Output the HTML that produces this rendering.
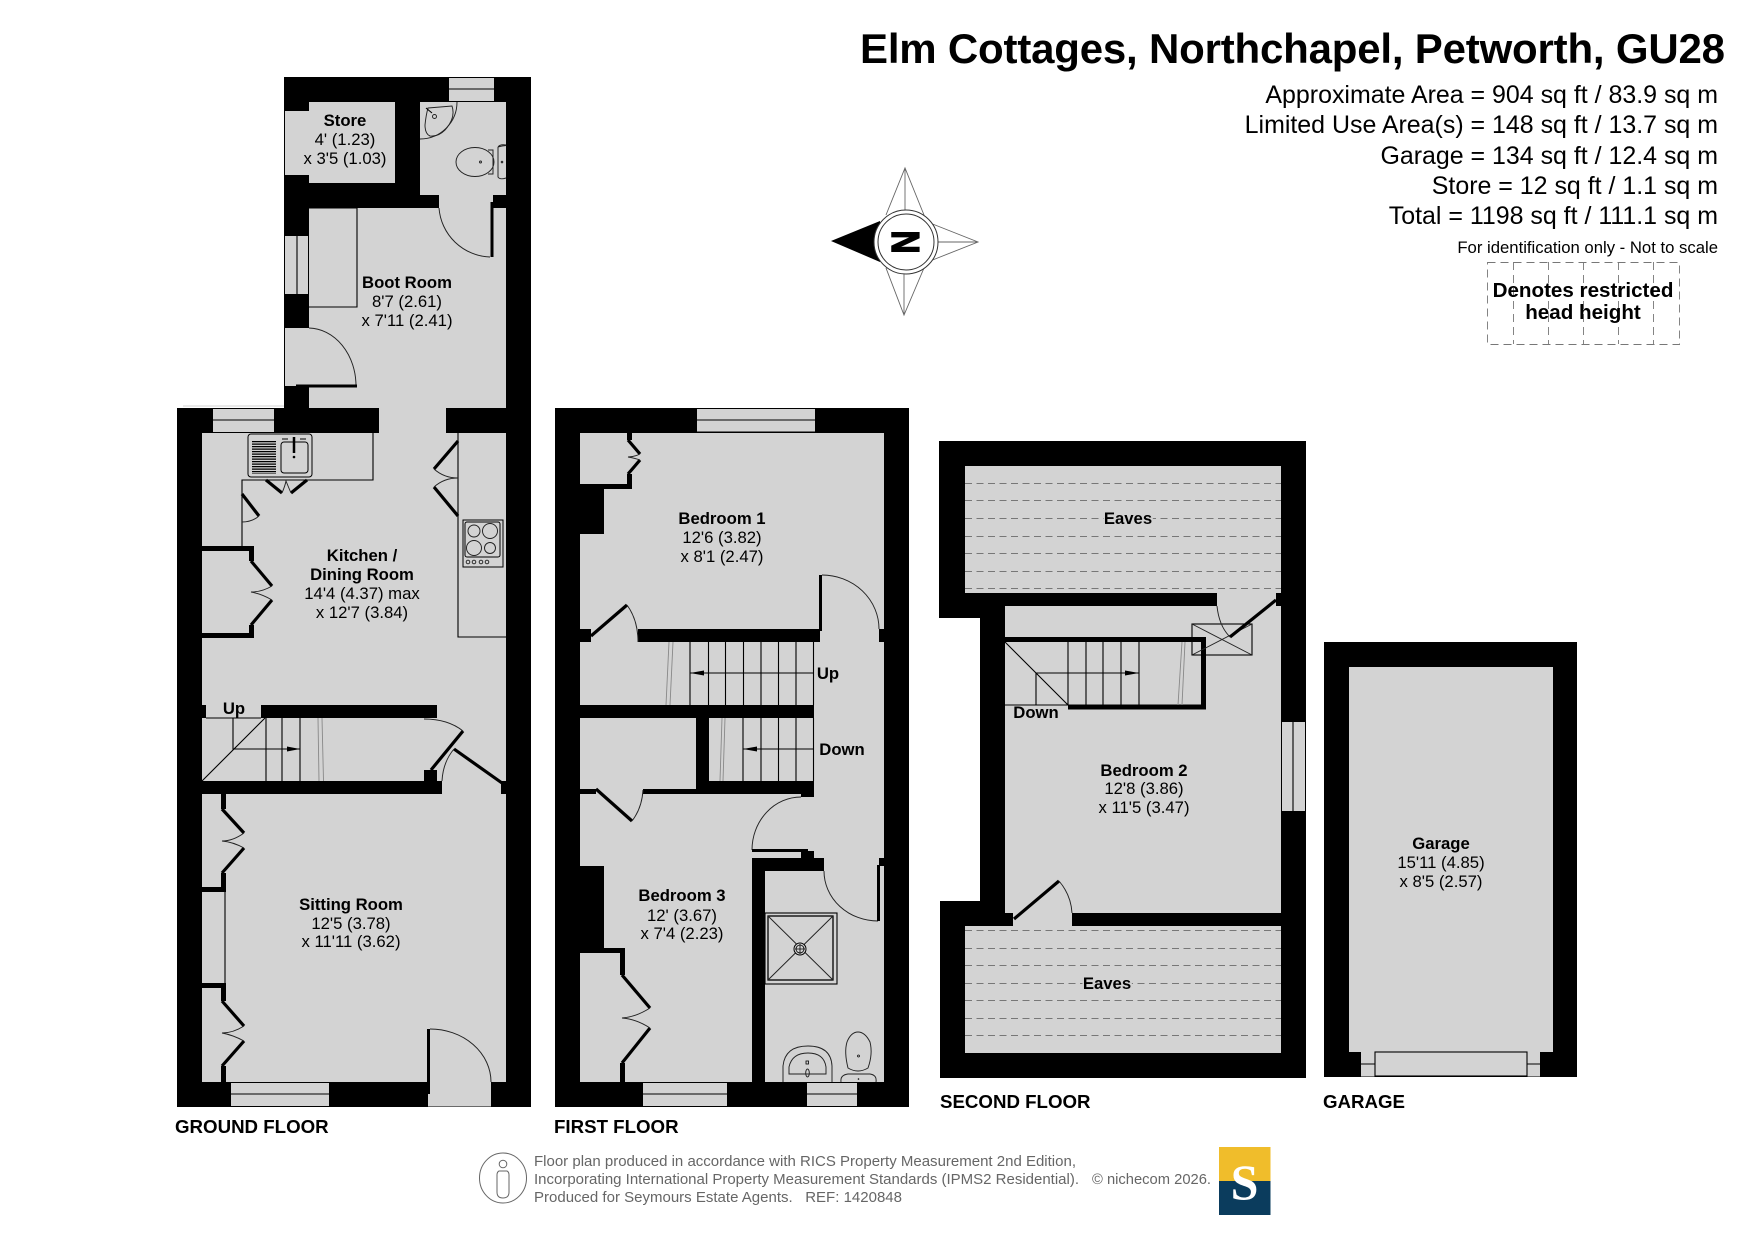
<!DOCTYPE html>
<html><head><meta charset="utf-8"><style>
html,body{margin:0;padding:0;background:#fff;width:1755px;height:1241px;overflow:hidden}
svg{display:block}
text{font-family:"Liberation Sans",sans-serif;fill:#000}
.r{font-size:16.7px;text-anchor:middle}
.b{font-size:16.7px;font-weight:bold;text-anchor:middle}
.f{font-size:18.7px;font-weight:bold}
.i{font-size:24.95px;text-anchor:end}
.foot{font-size:15px;fill:#666}
.t{fill:none;stroke:#000;stroke-width:1.1}
.a{fill:none;stroke:#222;stroke-width:.95}
.l{fill:none;stroke:#000;stroke-width:3.2}
.g{fill:none;stroke:#888;stroke-width:.9}
.d{fill:none;stroke:#777;stroke-width:1;stroke-dasharray:7 4.5}
</style></head><body>
<svg width="1755" height="1241" viewBox="0 0 1755 1241" xmlns="http://www.w3.org/2000/svg">
<rect width="1755" height="1241" fill="#fff"/>

<!-- HEADER -->
<text x="860" y="63" font-size="42" font-weight="bold" textLength="865" lengthAdjust="spacing">Elm Cottages, Northchapel, Petworth, GU28</text>
<text class="i" x="1718" y="103">Approximate Area = 904 sq ft / 83.9 sq m</text>
<text class="i" x="1718" y="133">Limited Use Area(s) = 148 sq ft / 13.7 sq m</text>
<text class="i" x="1718" y="164">Garage = 134 sq ft / 12.4 sq m</text>
<text class="i" x="1718" y="194">Store = 12 sq ft / 1.1 sq m</text>
<text class="i" x="1718" y="224">Total = 1198 sq ft / 111.1 sq m</text>
<text x="1718" y="253" font-size="16.7" text-anchor="end">For identification only - Not to scale</text>
<rect x="1487.500" y="262.500" width="192" height="82" fill="none" stroke="#777" stroke-width=".9" stroke-dasharray="8 5"/>
<path d="M1513.500 262V344M1548.500 262V344M1583.500 262V344M1618.500 262V344M1653.500 262V344" fill="none" stroke="#777" stroke-width=".9" stroke-dasharray="8 5"/>
<text x="1583" y="297" font-size="20.6" font-weight="bold" text-anchor="middle">Denotes restricted</text>
<text x="1583" y="319" font-size="20.6" font-weight="bold" text-anchor="middle">head height</text>

<!-- COMPASS -->
<g fill="none" stroke="#666" stroke-width=".9">
<path d="M886 215L905 168L924 215M905 168V210"/>
<path d="M930 223L978 242L930 261M978 242H937"/>
<path d="M886 268L904 315L924 268M904 315V274"/>
</g>
<polygon points="880,221 831,241 880,262" fill="#000"/>
<circle cx="906" cy="242" r="32" fill="#fff" stroke="#333"/>
<circle cx="906" cy="242" r="28" fill="#fff" stroke="#333"/>
<text transform="translate(906,242) rotate(90) scale(.82,1)" x="0" y="14" font-size="39" font-weight="bold" text-anchor="middle" stroke="#000" stroke-width="1.5">N</text>

<!-- GROUND FLOOR -->
<polygon points="284,77 531,77 531,1107 177,1107 177,408 284,408" fill="#000"/>
<path d="M183 406H284" stroke="#d3d3d3" stroke-width="1"/>
<g fill="#d3d3d3">
<rect x="309" y="102" width="86" height="81"/>
<rect x="285" y="111" width="24" height="64"/>
<rect x="420" y="102" width="86" height="93"/>
<rect x="439" y="195" width="54" height="13"/>
<rect x="309" y="208" width="197" height="200"/>
<rect x="285" y="328" width="24" height="58"/>
<rect x="379" y="408" width="67" height="25"/>
<rect x="202" y="433" width="304" height="649"/>
<rect x="428" y="1082" width="63" height="24.500"/>
<rect x="449" y="78" width="45" height="23"/>
<rect x="285" y="236" width="23" height="58"/>
<rect x="213" y="409" width="61" height="23"/>
<rect x="231" y="1082.500" width="98" height="24"/>
</g>
<path class="t" d="M449 89H494M297 236V294M213 420H274M231 1082.500H329M231 1094H329M231 1106.500H329"/>
<!-- WC -->
<path class="a" d="M457 102A37 37 0 0 1 420 139"/>
<path class="a" d="M428 108L452 106Q456 118 445 130Q438 137 430 136Q425 134 425 125Q426 115 428 108Z"/>
<circle class="a" cx="434.500" cy="116.500" r="2"/><path class="t" d="M426 108L432 113"/>
<ellipse class="a" cx="475" cy="162" rx="19" ry="14.500"/>
<path class="a" d="M488 150H493V174H488M498 147Q506 145 506 146M498 147V177Q500 180 506 178M498 147Q500 144 506 145"/>
<circle class="a" cx="480.500" cy="162" r="1"/><circle class="a" cx="502" cy="162" r=".8"/>
<!-- boot room -->
<path class="t" d="M309 208H357V307H309"/>
<path d="M492 202V257" stroke="#000" stroke-width="3"/><path class="a" d="M439 208A53 53 0 0 0 490 257"/>
<rect x="493" y="195" width="13" height="13" fill="#000"/>
<path class="a" d="M309 328A48 58 0 0 1 356 386"/>
<path d="M296 386H357" stroke="#000" stroke-width="3"/>
<!-- kitchen -->
<path class="t" d="M373 433V480H242V547"/>
<rect x="248" y="434" width="64" height="43" rx="3" fill="#d3d3d3" stroke="#000"/>
<rect x="281" y="442" width="27" height="31" rx="3" fill="none" stroke="#000"/>
<path d="M264 441V474" stroke="#000" stroke-width="24" stroke-dasharray="1.300 1.200" fill="none"/>
<path d="M294 437V453" stroke="#000" stroke-width="2.500"/><circle cx="294" cy="457" r="1.300" fill="#000"/>
<path class="t" d="M282 439H288M300 439H306"/>
<path class="l" d="M266 480L282 493M307 480L291 493"/>
<path class="a" d="M282 493Q285 486 286 481Q288 486 291 493"/>
<path class="l" d="M242 494L259 516"/><path class="a" d="M259 516Q252 522 242 522"/>
<path class="t" d="M458 433V637H506"/>
<path class="l" d="M458 441L434 469M458 516L434 487"/>
<path class="a" d="M434 469Q444 478 458 478Q444 478 434 487"/>
<rect x="463" y="520" width="40" height="47" fill="#d3d3d3" stroke="#000"/>
<rect x="465" y="522" width="35" height="35" rx="2" fill="none" stroke="#000"/>
<g class="a"><circle class="a" cx="474" cy="531" r="6"/><circle class="a" cx="490" cy="531" r="7.500"/><circle class="a" cx="474" cy="548" r="7.500"/><circle class="a" cx="490" cy="548" r="5.500"/>
<circle class="a" cx="468" cy="562" r="1.800"/><circle class="a" cx="474" cy="562" r="1.800"/><circle class="a" cx="481" cy="562" r="1.800"/><circle class="a" cx="487" cy="562" r="1.800"/></g>
<path d="M202 548.500H251.500V561M251.500 625V635.500H202" fill="none" stroke="#000" stroke-width="5"/>
<path class="l" d="M251 561L272 586M272 600L251 625"/>
<path class="a" d="M272 586Q262 592 251 592Q262 594 272 600"/>
<!-- stairs GF -->
<rect x="261" y="705" width="176" height="13" fill="#000"/><rect x="202" y="705" width="4" height="13" fill="#000"/>
<rect x="202" y="781" width="240" height="13" fill="#000"/><rect x="424" y="770" width="13" height="11" fill="#000"/>
<rect x="501" y="781" width="5" height="13" fill="#000"/>
<path class="t" d="M206 718H261M266 718V781M282 718V781M300 718V781M202 781L265 718M233 718V749H300"/>
<polygon points="287,746.500 300,749 287,751.500" fill="#000"/>
<path class="g" d="M318 718L319 781M322 718L323.500 781"/>
<path class="l" d="M431 770L463 731M454 749L502 783"/>
<path class="a" d="M424 719Q448 719 463 731M454 749Q443 762 442 781"/>
<!-- sitting -->
<path d="M223.500 794V809M223.500 873V889.500H202M202 985.500H223.500V1001M223.500 1066V1082" fill="none" stroke="#000" stroke-width="5"/>
<path class="t" d="M225 892V983"/>
<path class="l" d="M222 809L244 833M244 848L222 873M222 1001L244 1026M244 1041L222 1066"/>
<path class="a" d="M244 833Q233 841 222 841Q233 842 244 848M244 1026Q233 1033 222 1033Q233 1035 244 1041"/>
<path d="M428.500 1029V1094" stroke="#000" stroke-width="3"/>
<path class="a" d="M430 1029A61 53 0 0 1 491 1082"/>
<text class="f" x="175" y="1133">GROUND FLOOR</text>

<!-- labels GF -->
<text class="b" x="345" y="126">Store</text><text class="r" x="345" y="145">4' (1.23)</text><text class="r" x="345" y="164">x 3'5 (1.03)</text>
<text class="b" x="407" y="288">Boot Room</text><text class="r" x="407" y="307">8'7 (2.61)</text><text class="r" x="407" y="326">x 7'11 (2.41)</text>
<text class="b" x="362" y="561">Kitchen /</text><text class="b" x="362" y="580">Dining Room</text><text class="r" x="362" y="599">14'4 (4.37) max</text><text class="r" x="362" y="618">x 12'7 (3.84)</text>
<text class="b" x="234" y="714">Up</text>
<text class="b" x="351" y="910">Sitting Room</text><text class="r" x="351" y="929">12'5 (3.78)</text><text class="r" x="351" y="947">x 11'11 (3.62)</text>

<!-- FIRST FLOOR -->
<rect x="555" y="408" width="354" height="699" fill="#000"/>
<g fill="#d3d3d3">
<rect x="580" y="433" width="304" height="649"/>
<rect x="697" y="408.500" width="118" height="23.500"/>
<rect x="643" y="1082.500" width="84" height="24"/>
<rect x="807" y="1082.500" width="50" height="24"/>
</g>
<path class="t" d="M697 408.500H815M697 420H815M697 432H815M643 1082.500H727M643 1094H727M643 1106.500H727M807 1082.500H857M807 1094H857M807 1106.500H857"/>
<g fill="#000">
<rect x="627" y="433" width="5" height="7"/><rect x="627" y="474" width="5" height="15"/><rect x="580" y="484" width="52" height="5"/><rect x="580" y="484" width="24" height="50"/>
<rect x="638" y="629" width="182" height="13"/><rect x="580" y="629" width="11" height="13"/><rect x="879" y="629" width="5" height="13"/>
<rect x="580" y="705" width="234" height="13"/><rect x="696" y="718" width="13" height="76"/><rect x="696" y="781" width="118" height="13"/><rect x="801" y="794" width="13" height="3"/>
<rect x="580" y="789" width="16" height="5"/><rect x="643" y="789" width="60" height="5"/>
<rect x="801" y="851" width="13" height="8"/><rect x="752" y="858" width="72" height="13"/><rect x="752" y="858" width="13" height="224"/>
<rect x="879" y="858" width="5" height="8"/>
<rect x="580" y="866" width="24" height="87"/><rect x="580" y="948" width="45" height="5"/><rect x="620" y="948" width="5" height="27"/><rect x="620" y="1063" width="5" height="19"/>
</g>
<path class="l" d="M628 440L640 454M640 460L628 474M622 975L650 1008M650 1028L622 1063M591 636L627 605M596 789L632 821" />
<path class="a" d="M640 454Q634 457 628 457Q634 458 640 460M650 1008Q636 1017 622 1018Q636 1019 650 1028"/>
<path class="a" d="M627 605Q638 620 638 642M632 821Q642 808 643 790"/>
<path d="M820.500 575V631" stroke="#000" stroke-width="3"/>
<path class="a" d="M822 575A57 54 0 0 1 879 629"/>
<path class="t" d="M690 642V705M708.500 642V705M725.500 642V705M743.500 642V705M761 642V705M778.500 642V705M796 642V705M813.500 642V705M690 673H813.500"/>
<polygon points="690,673 704,670.500 704,675.500" fill="#000"/>
<path class="g" d="M669 642L666 705M673 642L670 705"/>
<path class="t" d="M743 718V781M761 718V781M778.500 718V781M796 718V781M813.500 718V781M743 749H813.500"/>
<polygon points="743,749 757,746.500 757,751.500" fill="#000"/>
<path class="g" d="M722 718L720 781M725 718L723 781"/>
<path class="a" d="M801 797A49 53 0 0 0 752 850"/>
<path d="M752 850.500H808" stroke="#000" stroke-width="3"/>
<path class="a" d="M824 871A54 50 0 0 0 878 921"/>
<path d="M878.500 865V921" stroke="#000" stroke-width="3"/>
<!-- shower -->
<rect x="765" y="913" width="72" height="71" fill="none" stroke="#000" stroke-width="1.100"/>
<rect x="768" y="916" width="65" height="64" fill="none" stroke="#000" stroke-width="1.300"/>
<path class="a" d="M768 916L833 980M833 916L768 980"/>
<circle cx="800" cy="949" r="6" fill="#d3d3d3" stroke="#000"/><circle cx="800" cy="949" r="4" fill="none" stroke="#000" stroke-width=".8"/><path d="M795 949H805M800 944V954" stroke="#000" stroke-width=".8"/>
<path class="a" d="M783 1082V1066Q785 1046 808 1046Q831 1046 832 1066V1082"/>
<path class="a" d="M789 1074V1067Q792 1053 808 1053Q824 1053 826 1067V1074H789Z"/>
<rect x="806" y="1061" width="2.500" height="3" fill="none" stroke="#000" stroke-width=".8"/>
<ellipse class="a" cx="807.500" cy="1073" rx="1.800" ry="4"/>
<path class="a" d="M848 1068Q844 1052 847 1042Q851 1032 858 1032Q865 1032 870 1042Q873 1054 868 1068Q858 1074 848 1068Z"/>
<path class="a" d="M841 1082Q840 1075 848 1074H870Q877 1075 876 1082"/>
<circle cx="858.500" cy="1056" r="1" fill="none" stroke="#000" stroke-width=".7"/><circle cx="858.500" cy="1079" r=".8" fill="#000"/>
<text class="b" x="722" y="524">Bedroom 1</text><text class="r" x="722" y="543">12'6 (3.82)</text><text class="r" x="722" y="562">x 8'1 (2.47)</text>
<text class="b" x="828" y="679">Up</text><text class="b" x="842" y="755">Down</text>
<text class="b" x="682" y="901">Bedroom 3</text><text class="r" x="682" y="921">12' (3.67)</text><text class="r" x="682" y="939">x 7'4 (2.23)</text>
<text class="f" x="554" y="1133">FIRST FLOOR</text>

<!-- SECOND FLOOR -->
<polygon points="939,441 1306,441 1306,1078 940,1078 940,901 980,901 980,618 939,618" fill="#000"/>
<g fill="#d3d3d3">
<rect x="965" y="466" width="316" height="127"/>
<rect x="1005" y="606" width="276" height="307"/>
<rect x="1217" y="593" width="64" height="13"/>
<rect x="965" y="926" width="316" height="127"/>
<rect x="1013" y="913" width="59" height="13"/>
<rect x="1282" y="722" width="23" height="89"/>
</g>
<rect x="1276" y="593" width="5" height="13" fill="#000"/>
<path class="t" d="M1293 722V811"/>
<path class="d" d="M965 483.500H1281M965 500.500H1281M965 518.500H1281M965 536.500H1281M965 553.500H1281M965 571.500H1281M965 588.500H1281"/>
<path class="d" d="M965 930.500H1281M965 948.500H1281M965 965.500H1281M965 983.500H1281M965 1000.500H1281M965 1018.500H1281M965 1035.500H1281"/>
<path d="M1005 639.500H1203.500V707H1068" fill="none" stroke="#000" stroke-width="5"/>
<rect x="1192" y="624" width="60" height="31" fill="none" stroke="#000" stroke-width="1.100"/>
<path class="a" d="M1192 624L1252 655M1192 655L1252 624"/>
<path class="t" d="M1005 705H1068M1005 642L1068 705M1068 642V705M1086 642V705M1103 642V705M1121 642V705M1139 642V705M1036 705V673H1139"/>
<polygon points="1125,670.500 1139,673 1125,675.500" fill="#000"/>
<path class="g" d="M1182 642L1178 705M1185 642L1182 705"/>
<path class="l" d="M1276 600L1230 637"/><path class="a" d="M1217 606Q1219 626 1230 637"/>
<path class="l" d="M1014 919L1059 881"/><path class="a" d="M1059 881Q1071 895 1072 913"/>
<text class="b" x="1128" y="524" style="paint-order:stroke" stroke="#d3d3d3" stroke-width="3">Eaves</text>
<text class="b" x="1036" y="718">Down</text>
<text class="b" x="1144" y="776">Bedroom 2</text><text class="r" x="1144" y="794">12'8 (3.86)</text><text class="r" x="1144" y="813">x 11'5 (3.47)</text>
<text class="b" x="1107" y="989" style="paint-order:stroke" stroke="#d3d3d3" stroke-width="3">Eaves</text>
<text class="f" x="940" y="1108">SECOND FLOOR</text>

<!-- GARAGE -->
<rect x="1324" y="642" width="253" height="435" fill="#000"/>
<rect x="1349" y="667" width="204" height="385" fill="#d3d3d3"/>
<rect x="1361" y="1052" width="179" height="24.500" fill="#d3d3d3"/>
<rect x="1375" y="1052" width="152" height="24" fill="#d3d3d3" stroke="#000" stroke-width="1.100"/>
<path class="t" d="M1361 1064H1375M1527 1064H1540"/>
<text class="b" x="1441" y="849">Garage</text><text class="r" x="1441" y="868">15'11 (4.85)</text><text class="r" x="1441" y="887">x 8'5 (2.57)</text>
<text class="f" x="1323" y="1108">GARAGE</text>

<!-- FOOTER -->
<ellipse cx="503" cy="1178" rx="23.500" ry="25" fill="none" stroke="#666"/>
<circle cx="503" cy="1164" r="3.800" fill="none" stroke="#666"/>
<path d="M499 1171H507Q509 1172 509 1175V1192Q509 1198 503 1198Q497 1198 497 1192V1175Q497 1172 499 1171Z" fill="none" stroke="#666"/>
<text class="foot" x="534" y="1166" textLength="542" lengthAdjust="spacingAndGlyphs">Floor plan produced in accordance with RICS Property Measurement 2nd Edition,</text>
<text class="foot" x="534" y="1184" textLength="545" lengthAdjust="spacingAndGlyphs">Incorporating International Property Measurement Standards (IPMS2 Residential).</text>
<text class="foot" x="534" y="1202" textLength="368" lengthAdjust="spacing">Produced for Seymours Estate Agents.&#160;&#160; REF: 1420848</text>
<text class="foot" x="1092" y="1184" textLength="119" lengthAdjust="spacingAndGlyphs">© nichecom 2026.</text>
<rect x="1219" y="1147" width="51.500" height="34" fill="#f0bd2b"/>
<rect x="1219" y="1181" width="51.500" height="34" fill="#0b3c5d"/>
<text x="1244.500" y="1199" font-size="50" font-weight="bold" text-anchor="middle" style="font-family:'Liberation Serif',serif;fill:#fff">S</text>
</svg>
</body></html>
